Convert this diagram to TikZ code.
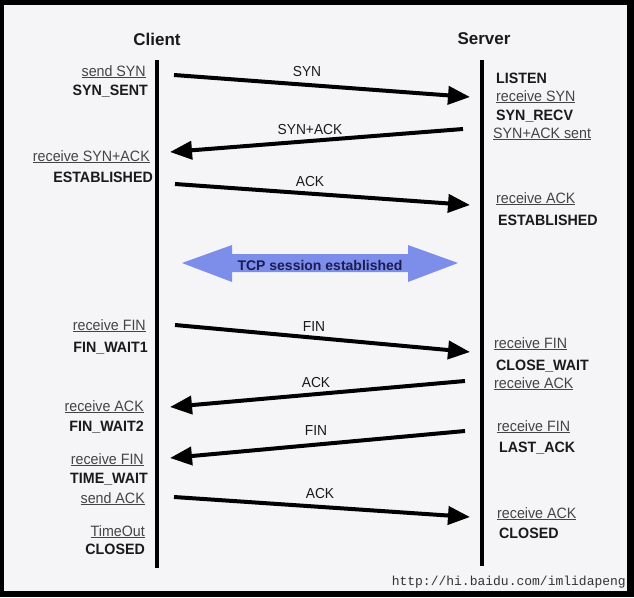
\documentclass[tikz,border=0pt]{standalone}
\usepackage{fontspec}
\setmainfont{Liberation Sans}
\setmonofont{Liberation Mono}
\usetikzlibrary{arrows.meta}
\definecolor{bg}{HTML}{F5F5F7}
\definecolor{ulgray}{HTML}{444444}
\definecolor{txt}{HTML}{1A1A1A}
\definecolor{sess}{HTML}{7D8EEA}
\definecolor{navy}{HTML}{1C1C55}
\definecolor{wm}{HTML}{333333}
\newcommand{\narrowtxt}[1]{\scalebox{0.95}[1]{#1}}
\begin{document}
\begin{tikzpicture}[x=1pt,y=-1pt,
  ul/.style={font=\fontsize{15}{16}\selectfont, text=ulgray, inner sep=0pt, text height=11pt, text depth=3pt},
  st/.style={font=\fontsize{15}{16}\selectfont\bfseries, text=txt, inner sep=0pt, text height=11pt, text depth=3pt},
  msglbl/.style={font=\fontsize{14.5}{16}\selectfont, text=txt, inner sep=0pt},
  title/.style={font=\fontsize{17}{18}\selectfont\bfseries, text=txt, inner sep=0pt},
  life/.style={line width=4pt, black},
  msg/.style={line width=4pt, black, -{Triangle[length=22pt,width=18pt]}},
]
\useasboundingbox (0,0) rectangle (634,597);
\fill[black] (0,0) rectangle (634,597);
\fill[bg] (4,5) rectangle (627,591);

% titles
\node[title] (client) at (157,39) {Client};
\node[title] (server) at (484,39) {Server};

% lifelines
\coordinate (ctop) at (157,60);
\coordinate (cbot) at (157,568);
\coordinate (stop) at (481.5,60);
\coordinate (sbot) at (481.5,566);
\draw[life] (ctop) -- (cbot);
\draw[life] (stop) -- (sbot);

% messages
\coordinate (a1) at (174,75);  \coordinate (b1) at (470,97);
\coordinate (a2) at (463,129); \coordinate (b2) at (170,152);
\coordinate (a3) at (175,184); \coordinate (b3) at (470,205);
\coordinate (a4) at (175,325); \coordinate (b4) at (470,352);
\coordinate (a5) at (465,381); \coordinate (b5) at (170,407);
\coordinate (a6) at (465,431); \coordinate (b6) at (170,458);
\coordinate (a7) at (174,497); \coordinate (b7) at (470,517);
\draw[msg] (a1) -- (b1);
\draw[msg] (a2) -- (b2);
\draw[msg] (a3) -- (b3);
\draw[msg] (a4) -- (b4);
\draw[msg] (a5) -- (b5);
\draw[msg] (a6) -- (b6);
\draw[msg] (a7) -- (b7);

\node[msglbl] (m1) at (307,72) {\narrowtxt{SYN}};
\node[msglbl] (m2) at (310,130) {\narrowtxt{SYN+ACK}};
\node[msglbl] (m3) at (310,182) {\narrowtxt{ACK}};
\node[msglbl] (m4) at (314,327) {\narrowtxt{FIN}};
\node[msglbl] (m5) at (316,383) {\narrowtxt{ACK}};
\node[msglbl] (m6) at (316,431) {\narrowtxt{FIN}};
\node[msglbl] (m7) at (320,494) {\narrowtxt{ACK}};

% session arrow
\fill[sess] (182,263) -- (232,245) -- (232,254) -- (408,254) -- (408,245) -- (458,263)
  -- (408,282) -- (408,272) -- (232,272) -- (232,282) -- cycle;
\node[font=\fontsize{14}{15}\selectfont\bfseries, text=navy, inner sep=0pt] (sessl) at (320,265) {TCP session established};

% client side labels
\node[ul, anchor=east] (l1) at (146,72) {\narrowtxt{\underline{send SYN}}};
\node[st, anchor=east] (l2) at (148,91) {\narrowtxt{SYN\_SENT}};
\node[ul, anchor=east] (l3) at (150,157) {\narrowtxt{\underline{receive SYN+ACK}}};
\node[st, anchor=east] (l4) at (153,178) {\narrowtxt{ESTABLISHED}};
\node[ul, anchor=east] (l5) at (146,326) {\narrowtxt{\underline{receive FIN}}};
\node[st, anchor=east] (l6) at (148,348) {\narrowtxt{FIN\_WAIT1}};
\node[ul, anchor=east] (l7) at (144,407) {\narrowtxt{\underline{receive ACK}}};
\node[st, anchor=east] (l8) at (144,427) {\narrowtxt{FIN\_WAIT2}};
\node[ul, anchor=east] (l9) at (144,460) {\narrowtxt{\underline{receive FIN}}};
\node[st, anchor=east] (l10) at (148,479) {\narrowtxt{TIME\_WAIT}};
\node[ul, anchor=east] (l11) at (145,499) {\narrowtxt{\underline{send ACK}}};
\node[ul, anchor=east] (l12) at (145,532) {\narrowtxt{\underline{TimeOut}}};
\node[st, anchor=east] (l13) at (145,550) {\narrowtxt{CLOSED}};

% server side labels
\node[st, anchor=west] (r1) at (496,79) {\narrowtxt{LISTEN}};
\node[ul, anchor=west] (r2) at (496,97) {\narrowtxt{\underline{receive SYN}}};
\node[st, anchor=west] (r3) at (496,116) {\narrowtxt{SYN\_RECV}};
\node[ul, anchor=west] (r4) at (493,134) {\narrowtxt{\underline{SYN+ACK sent}}};
\node[ul, anchor=west] (r5) at (496,199) {\narrowtxt{\underline{receive ACK}}};
\node[st, anchor=west] (r6) at (498,221) {\narrowtxt{ESTABLISHED}};
\node[ul, anchor=west] (r7) at (494,344) {\narrowtxt{\underline{receive FIN}}};
\node[st, anchor=west] (r8) at (496,366) {\narrowtxt{CLOSE\_WAIT}};
\node[ul, anchor=west] (r9) at (494,384) {\narrowtxt{\underline{receive ACK}}};
\node[ul, anchor=west] (r10) at (497,427) {\narrowtxt{\underline{receive FIN}}};
\node[st, anchor=west] (r11) at (499,448) {\narrowtxt{LAST\_ACK}};
\node[ul, anchor=west] (r12) at (497,514) {\narrowtxt{\underline{receive ACK}}};
\node[st, anchor=west] (r13) at (499,534) {\narrowtxt{CLOSED}};

% watermark
\node[font=\fontsize{13}{14}\ttfamily, text=wm, inner sep=0pt, anchor=east] (wmk) at (626,582) {http://hi.baidu.com/imlidapeng};
\end{tikzpicture}
\end{document}
